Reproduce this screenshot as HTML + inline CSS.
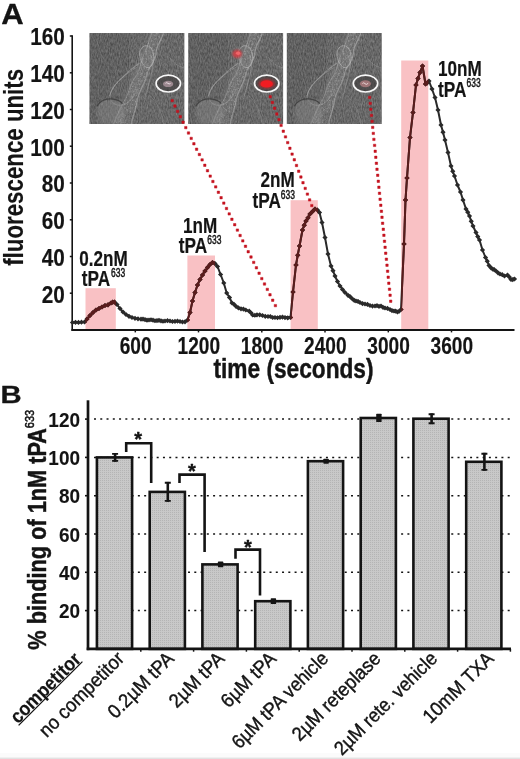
<!DOCTYPE html>
<html><head><meta charset="utf-8"><title>Figure</title>
<style>html,body{margin:0;padding:0;background:#fff;}body{width:520px;height:759px;overflow:hidden;}svg{display:block;font-family:'Liberation Sans', sans-serif;}</style>
</head><body>
<svg width="520" height="759" viewBox="0 0 520 759">
<defs>
<pattern id="dots" width="2" height="2" patternUnits="userSpaceOnUse"><rect width="2" height="2" fill="#c8c8c8"/><rect width="1" height="1" fill="#b4b4b4"/></pattern>
</defs>
<rect width="520" height="759" fill="#fff"/>
<rect x="0" y="753" width="520" height="5" fill="#fbfbfb"/><rect x="0" y="757.6" width="520" height="1.4" fill="#e2e2e2"/>
<g opacity="0.999">
<text transform="translate(1.3,23.6) scale(1.03,1)" font-size="30.2" font-weight="bold" text-anchor="start" fill="#141414" stroke="#141414" stroke-width="0.3" stroke-linejoin="round" >A</text>
<line x1="72.2" y1="35.2" x2="72.2" y2="330.8" stroke="#141414" stroke-width="1.6"/>
<line x1="71.4" y1="330.0" x2="514.5" y2="330.0" stroke="#141414" stroke-width="1.9"/>
<line x1="69.8" y1="293.2" x2="72.2" y2="293.2" stroke="#141414" stroke-width="1.5"/>
<text transform="translate(64.7,302.6) scale(0.875,1)" font-size="23.7" font-weight="bold" text-anchor="end" fill="#141414" stroke="#141414" stroke-width="0.2" stroke-linejoin="round" >20</text>
<line x1="69.8" y1="256.5" x2="72.2" y2="256.5" stroke="#141414" stroke-width="1.5"/>
<text transform="translate(64.7,265.8) scale(0.875,1)" font-size="23.7" font-weight="bold" text-anchor="end" fill="#141414" stroke="#141414" stroke-width="0.2" stroke-linejoin="round" >40</text>
<line x1="69.8" y1="219.8" x2="72.2" y2="219.8" stroke="#141414" stroke-width="1.5"/>
<text transform="translate(64.7,229.1) scale(0.875,1)" font-size="23.7" font-weight="bold" text-anchor="end" fill="#141414" stroke="#141414" stroke-width="0.2" stroke-linejoin="round" >60</text>
<line x1="69.8" y1="183.0" x2="72.2" y2="183.0" stroke="#141414" stroke-width="1.5"/>
<text transform="translate(64.7,192.3) scale(0.875,1)" font-size="23.7" font-weight="bold" text-anchor="end" fill="#141414" stroke="#141414" stroke-width="0.2" stroke-linejoin="round" >80</text>
<line x1="69.8" y1="146.2" x2="72.2" y2="146.2" stroke="#141414" stroke-width="1.5"/>
<text transform="translate(64.7,155.6) scale(0.875,1)" font-size="23.7" font-weight="bold" text-anchor="end" fill="#141414" stroke="#141414" stroke-width="0.2" stroke-linejoin="round" >100</text>
<line x1="69.8" y1="109.5" x2="72.2" y2="109.5" stroke="#141414" stroke-width="1.5"/>
<text transform="translate(64.7,118.8) scale(0.875,1)" font-size="23.7" font-weight="bold" text-anchor="end" fill="#141414" stroke="#141414" stroke-width="0.2" stroke-linejoin="round" >120</text>
<line x1="69.8" y1="72.8" x2="72.2" y2="72.8" stroke="#141414" stroke-width="1.5"/>
<text transform="translate(64.7,82.0) scale(0.875,1)" font-size="23.7" font-weight="bold" text-anchor="end" fill="#141414" stroke="#141414" stroke-width="0.2" stroke-linejoin="round" >140</text>
<line x1="69.8" y1="36.0" x2="72.2" y2="36.0" stroke="#141414" stroke-width="1.5"/>
<text transform="translate(64.7,45.3) scale(0.875,1)" font-size="23.7" font-weight="bold" text-anchor="end" fill="#141414" stroke="#141414" stroke-width="0.2" stroke-linejoin="round" >160</text>
<line x1="135.3" y1="330.0" x2="135.3" y2="332.4" stroke="#141414" stroke-width="1.5"/>
<text transform="translate(135.6,354.4) scale(0.77,1)" font-size="24.8" font-weight="bold" text-anchor="middle" fill="#141414" stroke="#141414" stroke-width="0.2" stroke-linejoin="round" >600</text>
<line x1="198.5" y1="330.0" x2="198.5" y2="332.4" stroke="#141414" stroke-width="1.5"/>
<text transform="translate(198.8,354.4) scale(0.77,1)" font-size="24.8" font-weight="bold" text-anchor="middle" fill="#141414" stroke="#141414" stroke-width="0.2" stroke-linejoin="round" >1200</text>
<line x1="261.8" y1="330.0" x2="261.8" y2="332.4" stroke="#141414" stroke-width="1.5"/>
<text transform="translate(262.1,354.4) scale(0.77,1)" font-size="24.8" font-weight="bold" text-anchor="middle" fill="#141414" stroke="#141414" stroke-width="0.2" stroke-linejoin="round" >1800</text>
<line x1="325.0" y1="330.0" x2="325.0" y2="332.4" stroke="#141414" stroke-width="1.5"/>
<text transform="translate(325.3,354.4) scale(0.77,1)" font-size="24.8" font-weight="bold" text-anchor="middle" fill="#141414" stroke="#141414" stroke-width="0.2" stroke-linejoin="round" >2400</text>
<line x1="388.3" y1="330.0" x2="388.3" y2="332.4" stroke="#141414" stroke-width="1.5"/>
<text transform="translate(388.6,354.4) scale(0.77,1)" font-size="24.8" font-weight="bold" text-anchor="middle" fill="#141414" stroke="#141414" stroke-width="0.2" stroke-linejoin="round" >3000</text>
<line x1="451.5" y1="330.0" x2="451.5" y2="332.4" stroke="#141414" stroke-width="1.5"/>
<text transform="translate(451.8,354.4) scale(0.77,1)" font-size="24.8" font-weight="bold" text-anchor="middle" fill="#141414" stroke="#141414" stroke-width="0.2" stroke-linejoin="round" >3600</text>
<text transform="translate(213.5,377.8) scale(0.81,1)" font-size="28" font-weight="bold" text-anchor="start" fill="#141414" stroke="#141414" stroke-width="0.45" stroke-linejoin="round" >time (seconds)</text>
<text transform="translate(22.7,265.8) rotate(-90) scale(0.832,1)" font-size="26.8" font-weight="bold" text-anchor="start" fill="#141414" stroke="#141414" stroke-width="0.15" stroke-linejoin="round" >fluorescence units</text>
<rect x="85.5" y="288.2" width="30.3" height="40.8" fill="#f9c1c4"/>
<rect x="187.4" y="255.5" width="27.6" height="73.5" fill="#f9c1c4"/>
<rect x="290.6" y="200.2" width="27.2" height="128.8" fill="#f9c1c4"/>
<rect x="401.2" y="60.5" width="27.1" height="268.5" fill="#f9c1c4"/>
<defs>
<filter id="nz" x="0" y="0" width="100%" height="100%" color-interpolation-filters="sRGB"><feTurbulence type="fractalNoise" baseFrequency="0.9 0.3" numOctaves="2" seed="7" result="n"/><feColorMatrix in="n" type="matrix" values="0.32 0 0 0 0.25  0.32 0 0 0 0.25  0.32 0 0 0 0.25  0 0 0 0 1"/></filter>
<filter id="sp" x="0" y="0" width="100%" height="100%" color-interpolation-filters="sRGB"><feTurbulence type="fractalNoise" baseFrequency="0.55" numOctaves="2" seed="11" result="n"/><feColorMatrix in="n" type="matrix" values="0 0 0 0 0.78  0 0 0 0 0.78  0 0 0 0 0.78  3.0 0 0 0 -1.55"/></filter>
<filter id="b1" x="-20%" y="-20%" width="140%" height="140%"><feGaussianBlur stdDeviation="1.1"/></filter>
<filter id="b2" x="-20%" y="-20%" width="140%" height="140%"><feGaussianBlur stdDeviation="2.4"/></filter>
<filter id="b05" x="-20%" y="-20%" width="140%" height="140%"><feGaussianBlur stdDeviation="0.6"/></filter>
<clipPath id="ic"><rect width="94.8" height="90.8"/></clipPath>
<clipPath id="band"><path d="M62,0 L75,0 C73,8 66,14 66,22 C66,30 58,34 57,42 C55,52 48,60 47,70 C46,80 42,84 42,91 L24,91 C28,82 30,74 36,66 C40,58 40,50 46,44 C52,36 50,28 55,20 C58,12 60,8 62,0Z"/></clipPath>
<g id="cell" clip-path="url(#ic)">
<rect width="95" height="91" fill="#666"/>
<rect width="95" height="91" filter="url(#nz)" opacity="0.9"/>
<rect width="40" height="91" fill="#000" opacity="0.06"/>
<path d="M68,-2 C62,20 54,34 50,46 C44,62 36,76 31,93" fill="none" stroke="#b0b0b0" stroke-width="14" opacity="0.17" filter="url(#b2)"/>
<g clip-path="url(#band)" filter="url(#b05)"><rect width="95" height="91" filter="url(#sp)" opacity="0.42"/></g>
<path d="M74,0 C72,7 67,12 66.5,20 C66,29 59,33 57.5,41 C56,51 49,58 47.5,68 C46.5,78 42.5,83 42,91" fill="none" stroke="#cfcfcf" stroke-width="1.2" opacity="0.38" filter="url(#b05)"/>
<path d="M62,0 C60,8 58,13 55,20 C50.5,28 52,35 46.5,43 C40.5,50 40,58 36,66 C30.5,74 28,82 24,91" fill="none" stroke="#c8c8c8" stroke-width="1.1" opacity="0.32" filter="url(#b05)"/>
<path d="M52,15 C49,19 50,27 54,32 C58,37 63,34 64,28 C65,21 63,15 59,13 C56,12 54,13 52,15Z" fill="#8e8e8e" fill-opacity="0.3" stroke="#c6c6c6" stroke-width="1" opacity="0.55" filter="url(#b05)"/>
<path d="M55,19 C54,23 56,28 59,29" fill="none" stroke="#5a5a5a" stroke-width="0.9" opacity="0.45" filter="url(#b05)"/>
<path d="M48,34 C40,38 30,46 24,54 C18,62 20,70 28,72 C36,74 44,66 48,56" fill="#858585" fill-opacity="0.18" stroke="#a8a8a8" stroke-width="1" opacity="0.45" filter="url(#b05)"/>
<path d="M50,30 C44,34 39,38 33,44 C26,50 22,56 20,63" fill="none" stroke="#b2b2b2" stroke-width="1.1" opacity="0.5" filter="url(#b05)"/>
<path d="M12,43 C11,45 12,47 14,47" fill="none" stroke="#505050" stroke-width="1.2" opacity="0.55" filter="url(#b05)"/>
<path d="M61,22 C66,30 62,40 60,48 C58,56 57,60 55,66" fill="none" stroke="#b4b4b4" stroke-width="1" opacity="0.4" filter="url(#b05)"/>
<path d="M80,24 C84,30 88,33 95,35" fill="none" stroke="#a2a2a2" stroke-width="1" opacity="0.4" filter="url(#b05)"/>
<path d="M60,62 C66,68 72,76 74,91" fill="none" stroke="#a0a0a0" stroke-width="1" opacity="0.35" filter="url(#b05)"/>
<path d="M7,75 C9,68 17,65 25,66.5 C31,67.5 34,71 35,77 C36,84 34,91 34,91 L10,91 C7,86 6,80 7,75Z" fill="#959595" opacity="0.36" filter="url(#b1)"/>
<path d="M7.5,73.5 C10,67.5 17,65 24,66 C28.5,66.8 31,68 33,70.5" fill="none" stroke="#3a3a3a" stroke-width="1.3" opacity="0.8" filter="url(#b05)"/>
<path d="M7.5,73.5 C7.5,80 10,86 13,91" fill="none" stroke="#5a5a5a" stroke-width="1" opacity="0.5" filter="url(#b05)"/>
<ellipse cx="78.9" cy="50.6" rx="11.6" ry="7.8" fill="#3f3c3c" opacity="0.62" filter="url(#b05)"/>
</g>
</defs>
<g transform="translate(89.5,33.1)">
<use href="#cell"/>
<ellipse cx="78.6" cy="50.8" rx="5.2" ry="3.2" fill="#a8929a" opacity="0.85" filter="url(#b05)"/>
<path d="M76,50.2 q1.2,-1.2 2.4,0 q1.2,1.2 2.6,0.2" fill="none" stroke="#f2e6ea" stroke-width="1" opacity="0.9"/>
</g>
<g transform="translate(188.3,33.1)">
<use href="#cell"/>
<ellipse cx="48.9" cy="20.7" rx="4.8" ry="4" fill="#dc3c44" opacity="0.85" filter="url(#b1)"/>
<ellipse cx="49.8" cy="20.2" rx="2.2" ry="1.7" fill="#f46a6e" opacity="0.9" filter="url(#b05)"/>
<ellipse cx="78.4" cy="50.8" rx="8.4" ry="4.9" fill="#a82a2e" opacity="0.9" filter="url(#b1)"/>
<ellipse cx="78.4" cy="50.8" rx="6.2" ry="3.7" fill="#f01c22" filter="url(#b05)"/>
</g>
<g transform="translate(286.8,33.1)">
<use href="#cell"/>
<ellipse cx="78.6" cy="50.7" rx="5.6" ry="3.5" fill="#a87a7c" opacity="0.9" filter="url(#b05)"/>
<path d="M75.6,50.4 q1.5,-1.6 2.6,0.2 q1.2,1.6 3.2,-0.4" fill="none" stroke="#f0dede" stroke-width="1" opacity="0.9"/>
</g>
<ellipse cx="168.3" cy="83.6" rx="12.2" ry="8.4" fill="none" stroke="#f7f7f7" stroke-width="1.7"/>
<ellipse cx="266.7" cy="83.6" rx="12.2" ry="8.4" fill="none" stroke="#f7f7f7" stroke-width="1.7"/>
<ellipse cx="365.5" cy="83.6" rx="12.2" ry="8.4" fill="none" stroke="#f7f7f7" stroke-width="1.7"/>
<path d="M171.0,99.4h2.4v2.4h-2.4zM173.7,104.8h2.4v2.4h-2.4zM176.4,110.2h2.4v2.4h-2.4zM179.1,115.6h2.4v2.4h-2.4zM181.9,121.0h2.4v2.4h-2.4zM184.6,126.4h2.4v2.4h-2.4zM187.3,131.8h2.4v2.4h-2.4zM190.0,137.2h2.4v2.4h-2.4zM192.7,142.6h2.4v2.4h-2.4zM195.4,148.0h2.4v2.4h-2.4zM198.2,153.3h2.4v2.4h-2.4zM200.9,158.7h2.4v2.4h-2.4zM203.6,164.1h2.4v2.4h-2.4zM206.3,169.5h2.4v2.4h-2.4zM209.0,174.9h2.4v2.4h-2.4zM211.7,180.3h2.4v2.4h-2.4zM214.5,185.7h2.4v2.4h-2.4zM217.2,191.1h2.4v2.4h-2.4zM219.9,196.5h2.4v2.4h-2.4zM222.6,201.9h2.4v2.4h-2.4zM225.3,207.3h2.4v2.4h-2.4zM228.0,212.7h2.4v2.4h-2.4zM230.7,218.1h2.4v2.4h-2.4zM233.5,223.5h2.4v2.4h-2.4zM236.2,228.9h2.4v2.4h-2.4zM238.9,234.3h2.4v2.4h-2.4zM241.6,239.7h2.4v2.4h-2.4zM244.3,245.1h2.4v2.4h-2.4zM247.0,250.5h2.4v2.4h-2.4zM249.8,255.8h2.4v2.4h-2.4zM252.5,261.2h2.4v2.4h-2.4zM255.2,266.6h2.4v2.4h-2.4zM257.9,272.0h2.4v2.4h-2.4zM260.6,277.4h2.4v2.4h-2.4zM263.3,282.8h2.4v2.4h-2.4zM266.1,288.2h2.4v2.4h-2.4zM268.8,293.6h2.4v2.4h-2.4zM271.5,299.0h2.4v2.4h-2.4zM274.2,304.4h2.4v2.4h-2.4z" fill="#c4121f" stroke="#c4121f" stroke-width="0.5" stroke-linejoin="round"/>
<path d="M269.0,95.6h2.4v2.4h-2.4zM271.2,101.3h2.4v2.4h-2.4zM273.4,107.1h2.4v2.4h-2.4zM275.6,112.8h2.4v2.4h-2.4zM277.8,118.5h2.4v2.4h-2.4zM279.9,124.2h2.4v2.4h-2.4zM282.1,130.0h2.4v2.4h-2.4zM284.3,135.7h2.4v2.4h-2.4zM286.5,141.4h2.4v2.4h-2.4zM288.7,147.1h2.4v2.4h-2.4zM290.9,152.9h2.4v2.4h-2.4zM293.1,158.6h2.4v2.4h-2.4zM295.3,164.3h2.4v2.4h-2.4zM297.5,170.0h2.4v2.4h-2.4zM299.7,175.8h2.4v2.4h-2.4zM301.8,181.5h2.4v2.4h-2.4zM304.0,187.2h2.4v2.4h-2.4zM306.2,192.9h2.4v2.4h-2.4zM308.4,198.7h2.4v2.4h-2.4zM310.6,204.4h2.4v2.4h-2.4z" fill="#c4121f" stroke="#c4121f" stroke-width="0.5" stroke-linejoin="round"/>
<path d="M368.4,96.2h2.4v2.4h-2.4zM369.0,102.2h2.4v2.4h-2.4zM369.6,108.2h2.4v2.4h-2.4zM370.3,114.2h2.4v2.4h-2.4zM370.9,120.2h2.4v2.4h-2.4zM371.5,126.2h2.4v2.4h-2.4zM372.1,132.2h2.4v2.4h-2.4zM372.7,138.2h2.4v2.4h-2.4zM373.4,144.2h2.4v2.4h-2.4zM374.0,150.1h2.4v2.4h-2.4zM374.6,156.1h2.4v2.4h-2.4zM375.2,162.1h2.4v2.4h-2.4zM375.8,168.1h2.4v2.4h-2.4zM376.5,174.1h2.4v2.4h-2.4zM377.1,180.1h2.4v2.4h-2.4zM377.7,186.1h2.4v2.4h-2.4zM378.3,192.1h2.4v2.4h-2.4zM378.9,198.1h2.4v2.4h-2.4zM379.6,204.1h2.4v2.4h-2.4zM380.2,210.1h2.4v2.4h-2.4zM380.8,216.1h2.4v2.4h-2.4zM381.4,222.1h2.4v2.4h-2.4zM382.1,228.1h2.4v2.4h-2.4zM382.7,234.1h2.4v2.4h-2.4zM383.3,240.1h2.4v2.4h-2.4zM383.9,246.1h2.4v2.4h-2.4zM384.5,252.0h2.4v2.4h-2.4zM385.2,258.0h2.4v2.4h-2.4zM385.8,264.0h2.4v2.4h-2.4zM386.4,270.0h2.4v2.4h-2.4zM387.0,276.0h2.4v2.4h-2.4zM387.6,282.0h2.4v2.4h-2.4zM388.3,288.0h2.4v2.4h-2.4zM388.9,294.0h2.4v2.4h-2.4zM389.5,300.0h2.4v2.4h-2.4z" fill="#c4121f" stroke="#c4121f" stroke-width="0.5" stroke-linejoin="round"/>
<defs>
<clipPath id="cp"><rect x="85.5" y="288.2" width="30.3" height="41.8"/><rect x="187.4" y="255.5" width="27.6" height="74.5"/><rect x="290.6" y="200.2" width="27.2" height="129.8"/><rect x="401.2" y="60.5" width="27.1" height="269.5"/></clipPath>
</defs>
<g><polyline points="72.5,322.5 75.5,322.3 78.5,322.4 81.5,322.2 84.5,322 87,319 90,315.5 93,312.5 96,310 99,308.5 102,307 105,305.5 108,304.8 111,303 112.75,302.15 114.5,302 117,304.5 120,308.5 123,312 126,314.5 129,316.3 132,317.5 135,318.3 138,318.8 141,319.2 143.0,319.05 145,319.6 147.0,320.15 149,320 151.0,319.75 153,320.2 155.0,320.75 157,320.6 159.0,320.35 161,320.8 163.0,321.25 165,321 167.5,320.65 170,321 172.5,321.5 175,321.3 177.5,321.05 180,321.5 182.5,322.0 185,321.8 187.5,320 190,312.5 192.5,301 195,292.5 197.5,285 200,279.5 202.5,275 205,271 207.5,267.5 210,264.5 212.5,262.5 215,263.5 217.5,266.5 220.6,274.5 223.8,283 226.7,293 229.5,297.5 232,303 234.0,304.3 236,306.3 238.5,307.9 241,308.8 243.4,309.05 245.8,310 249.2,311.2 250.95,312.75 252.7,315 254.85,315.25 257,314.8 259.75,314.8 262.5,315.5 265.25,316.35 268,316.5 270.33,316.48 272.67,317.52 275,317.5 277.5,317.75 280,317.3 282.5,317.1 285,317.6 287.75,317.9 290.5,317.5 293,292 296,265 297.75,255.15 299.5,246 302.5,230 304.25,225.15 306,221 308.0,217.85 310,214 312.5,211.5 315,209 317.5,210 319.5,212.5 322,222.5 325,237.5 328,254 331,266 333.0,270.65 335,276 337.5,281.5 340,286 342.5,289.5 345,292.5 348,295.3 350.25,296.8 352.5,299 354.25,300.35 356,301 358.0,301.4 360,302.5 362.5,303.6 365,304 367.5,304.4 370,305.5 372.5,306.1 375,306 377.0,305.65 379.0,306.35 381,306 383.0,307.35 385,308 387.5,308.4 390,309.5 392.0,310.6 394,311 395.75,311.15 397.5,312 399.25,311.1 401,309.5 404,244 405.5,200 407,178 410,137.5 413,112.5 416,85 418.0,78.4 420,72.5 422.5,66 425.5,84 427.25,82.85 429,81 432,89 435,97.5 438,110 441,125 443.0,132.15 445,140 448,152.5 451,166 452.75,171.35 454.5,176 457.5,185 460.5,192 463,200 466,209 467.75,212.15 469.5,216 471.25,221.35 473,226 476,232.5 477.75,236.6 479.5,240 482.5,250 485.5,257.5 487.25,261.15 489,265.5 490.75,267.6 492.5,269 494.25,269.65 496,271 498.0,272.85 500,274 502.25,274.65 504.5,276 507.5,275 509.25,276.9 511,279.5 512.75,279.6 514.5,279" fill="none" stroke="#2a2a2a" stroke-width="2.0" stroke-linejoin="round"/><path d="M69.9,322.5L72.5,319.9L75.1,322.5L72.5,325.1ZM72.9,322.3L75.5,319.7L78.1,322.3L75.5,324.90000000000003ZM75.9,322.4L78.5,319.79999999999995L81.1,322.4L78.5,325.0ZM78.9,322.2L81.5,319.59999999999997L84.1,322.2L81.5,324.8ZM81.9,322L84.5,319.4L87.1,322L84.5,324.6ZM84.4,319L87,316.4L89.6,319L87,321.6ZM87.4,315.5L90,312.9L92.6,315.5L90,318.1ZM90.4,312.5L93,309.9L95.6,312.5L93,315.1ZM93.4,310L96,307.4L98.6,310L96,312.6ZM96.4,308.5L99,305.9L101.6,308.5L99,311.1ZM99.4,307L102,304.4L104.6,307L102,309.6ZM102.4,305.5L105,302.9L107.6,305.5L105,308.1ZM105.4,304.8L108,302.2L110.6,304.8L108,307.40000000000003ZM108.4,303L111,300.4L113.6,303L111,305.6ZM110.15,302.15L112.75,299.54999999999995L115.35,302.15L112.75,304.75ZM111.9,302L114.5,299.4L117.1,302L114.5,304.6ZM114.4,304.5L117,301.9L119.6,304.5L117,307.1ZM117.4,308.5L120,305.9L122.6,308.5L120,311.1ZM120.4,312L123,309.4L125.6,312L123,314.6ZM123.4,314.5L126,311.9L128.6,314.5L126,317.1ZM126.4,316.3L129,313.7L131.6,316.3L129,318.90000000000003ZM129.4,317.5L132,314.9L134.6,317.5L132,320.1ZM132.4,318.3L135,315.7L137.6,318.3L135,320.90000000000003ZM135.4,318.8L138,316.2L140.6,318.8L138,321.40000000000003ZM138.4,319.2L141,316.59999999999997L143.6,319.2L141,321.8ZM140.4,319.05L143.0,316.45L145.6,319.05L143.0,321.65000000000003ZM142.4,319.6L145,317.0L147.6,319.6L145,322.20000000000005ZM144.4,320.15L147.0,317.54999999999995L149.6,320.15L147.0,322.75ZM146.4,320L149,317.4L151.6,320L149,322.6ZM148.4,319.75L151.0,317.15L153.6,319.75L151.0,322.35ZM150.4,320.2L153,317.59999999999997L155.6,320.2L153,322.8ZM152.4,320.75L155.0,318.15L157.6,320.75L155.0,323.35ZM154.4,320.6L157,318.0L159.6,320.6L157,323.20000000000005ZM156.4,320.35L159.0,317.75L161.6,320.35L159.0,322.95000000000005ZM158.4,320.8L161,318.2L163.6,320.8L161,323.40000000000003ZM160.4,321.25L163.0,318.65L165.6,321.25L163.0,323.85ZM162.4,321L165,318.4L167.6,321L165,323.6ZM164.9,320.65L167.5,318.04999999999995L170.1,320.65L167.5,323.25ZM167.4,321L170,318.4L172.6,321L170,323.6ZM169.9,321.5L172.5,318.9L175.1,321.5L172.5,324.1ZM172.4,321.3L175,318.7L177.6,321.3L175,323.90000000000003ZM174.9,321.05L177.5,318.45L180.1,321.05L177.5,323.65000000000003ZM177.4,321.5L180,318.9L182.6,321.5L180,324.1ZM179.9,322.0L182.5,319.4L185.1,322.0L182.5,324.6ZM182.4,321.8L185,319.2L187.6,321.8L185,324.40000000000003ZM184.9,320L187.5,317.4L190.1,320L187.5,322.6ZM187.4,312.5L190,309.9L192.6,312.5L190,315.1ZM189.9,301L192.5,298.4L195.1,301L192.5,303.6ZM192.4,292.5L195,289.9L197.6,292.5L195,295.1ZM194.9,285L197.5,282.4L200.1,285L197.5,287.6ZM197.4,279.5L200,276.9L202.6,279.5L200,282.1ZM199.9,275L202.5,272.4L205.1,275L202.5,277.6ZM202.4,271L205,268.4L207.6,271L205,273.6ZM204.9,267.5L207.5,264.9L210.1,267.5L207.5,270.1ZM207.4,264.5L210,261.9L212.6,264.5L210,267.1ZM209.9,262.5L212.5,259.9L215.1,262.5L212.5,265.1ZM212.4,263.5L215,260.9L217.6,263.5L215,266.1ZM214.9,266.5L217.5,263.9L220.1,266.5L217.5,269.1ZM218.0,274.5L220.6,271.9L223.2,274.5L220.6,277.1ZM221.20000000000002,283L223.8,280.4L226.4,283L223.8,285.6ZM224.1,293L226.7,290.4L229.29999999999998,293L226.7,295.6ZM226.9,297.5L229.5,294.9L232.1,297.5L229.5,300.1ZM229.4,303L232,300.4L234.6,303L232,305.6ZM231.4,304.3L234.0,301.7L236.6,304.3L234.0,306.90000000000003ZM233.4,306.3L236,303.7L238.6,306.3L236,308.90000000000003ZM235.9,307.9L238.5,305.29999999999995L241.1,307.9L238.5,310.5ZM238.4,308.8L241,306.2L243.6,308.8L241,311.40000000000003ZM240.8,309.05L243.4,306.45L246.0,309.05L243.4,311.65000000000003ZM243.20000000000002,310L245.8,307.4L248.4,310L245.8,312.6ZM246.6,311.2L249.2,308.59999999999997L251.79999999999998,311.2L249.2,313.8ZM248.35,312.75L250.95,310.15L253.54999999999998,312.75L250.95,315.35ZM250.1,315L252.7,312.4L255.29999999999998,315L252.7,317.6ZM252.25,315.25L254.85,312.65L257.45,315.25L254.85,317.85ZM254.4,314.8L257,312.2L259.6,314.8L257,317.40000000000003ZM257.15,314.8L259.75,312.2L262.35,314.8L259.75,317.40000000000003ZM259.9,315.5L262.5,312.9L265.1,315.5L262.5,318.1ZM262.65,316.35L265.25,313.75L267.85,316.35L265.25,318.95000000000005ZM265.4,316.5L268,313.9L270.6,316.5L268,319.1ZM267.72999999999996,316.48L270.33,313.88L272.93,316.48L270.33,319.08000000000004ZM270.07,317.52L272.67,314.91999999999996L275.27000000000004,317.52L272.67,320.12ZM272.4,317.5L275,314.9L277.6,317.5L275,320.1ZM274.9,317.75L277.5,315.15L280.1,317.75L277.5,320.35ZM277.4,317.3L280,314.7L282.6,317.3L280,319.90000000000003ZM279.9,317.1L282.5,314.5L285.1,317.1L282.5,319.70000000000005ZM282.4,317.6L285,315.0L287.6,317.6L285,320.20000000000005ZM285.15,317.9L287.75,315.29999999999995L290.35,317.9L287.75,320.5ZM287.9,317.5L290.5,314.9L293.1,317.5L290.5,320.1ZM290.4,292L293,289.4L295.6,292L293,294.6ZM293.4,265L296,262.4L298.6,265L296,267.6ZM295.15,255.15L297.75,252.55L300.35,255.15L297.75,257.75ZM296.9,246L299.5,243.4L302.1,246L299.5,248.6ZM299.9,230L302.5,227.4L305.1,230L302.5,232.6ZM301.65,225.15L304.25,222.55L306.85,225.15L304.25,227.75ZM303.4,221L306,218.4L308.6,221L306,223.6ZM305.4,217.85L308.0,215.25L310.6,217.85L308.0,220.45ZM307.4,214L310,211.4L312.6,214L310,216.6ZM309.9,211.5L312.5,208.9L315.1,211.5L312.5,214.1ZM312.4,209L315,206.4L317.6,209L315,211.6ZM314.9,210L317.5,207.4L320.1,210L317.5,212.6ZM316.9,212.5L319.5,209.9L322.1,212.5L319.5,215.1ZM319.4,222.5L322,219.9L324.6,222.5L322,225.1ZM322.4,237.5L325,234.9L327.6,237.5L325,240.1ZM325.4,254L328,251.4L330.6,254L328,256.6ZM328.4,266L331,263.4L333.6,266L331,268.6ZM330.4,270.65L333.0,268.04999999999995L335.6,270.65L333.0,273.25ZM332.4,276L335,273.4L337.6,276L335,278.6ZM334.9,281.5L337.5,278.9L340.1,281.5L337.5,284.1ZM337.4,286L340,283.4L342.6,286L340,288.6ZM339.9,289.5L342.5,286.9L345.1,289.5L342.5,292.1ZM342.4,292.5L345,289.9L347.6,292.5L345,295.1ZM345.4,295.3L348,292.7L350.6,295.3L348,297.90000000000003ZM347.65,296.8L350.25,294.2L352.85,296.8L350.25,299.40000000000003ZM349.9,299L352.5,296.4L355.1,299L352.5,301.6ZM351.65,300.35L354.25,297.75L356.85,300.35L354.25,302.95000000000005ZM353.4,301L356,298.4L358.6,301L356,303.6ZM355.4,301.4L358.0,298.79999999999995L360.6,301.4L358.0,304.0ZM357.4,302.5L360,299.9L362.6,302.5L360,305.1ZM359.9,303.6L362.5,301.0L365.1,303.6L362.5,306.20000000000005ZM362.4,304L365,301.4L367.6,304L365,306.6ZM364.9,304.4L367.5,301.79999999999995L370.1,304.4L367.5,307.0ZM367.4,305.5L370,302.9L372.6,305.5L370,308.1ZM369.9,306.1L372.5,303.5L375.1,306.1L372.5,308.70000000000005ZM372.4,306L375,303.4L377.6,306L375,308.6ZM374.4,305.65L377.0,303.04999999999995L379.6,305.65L377.0,308.25ZM376.4,306.35L379.0,303.75L381.6,306.35L379.0,308.95000000000005ZM378.4,306L381,303.4L383.6,306L381,308.6ZM380.4,307.35L383.0,304.75L385.6,307.35L383.0,309.95000000000005ZM382.4,308L385,305.4L387.6,308L385,310.6ZM384.9,308.4L387.5,305.79999999999995L390.1,308.4L387.5,311.0ZM387.4,309.5L390,306.9L392.6,309.5L390,312.1ZM389.4,310.6L392.0,308.0L394.6,310.6L392.0,313.20000000000005ZM391.4,311L394,308.4L396.6,311L394,313.6ZM393.15,311.15L395.75,308.54999999999995L398.35,311.15L395.75,313.75ZM394.9,312L397.5,309.4L400.1,312L397.5,314.6ZM396.65,311.1L399.25,308.5L401.85,311.1L399.25,313.70000000000005ZM398.4,309.5L401,306.9L403.6,309.5L401,312.1ZM401.4,244L404,241.4L406.6,244L404,246.6ZM402.9,200L405.5,197.4L408.1,200L405.5,202.6ZM404.4,178L407,175.4L409.6,178L407,180.6ZM407.4,137.5L410,134.9L412.6,137.5L410,140.1ZM410.4,112.5L413,109.9L415.6,112.5L413,115.1ZM413.4,85L416,82.4L418.6,85L416,87.6ZM415.4,78.4L418.0,75.80000000000001L420.6,78.4L418.0,81.0ZM417.4,72.5L420,69.9L422.6,72.5L420,75.1ZM419.9,66L422.5,63.4L425.1,66L422.5,68.6ZM422.9,84L425.5,81.4L428.1,84L425.5,86.6ZM424.65,82.85L427.25,80.25L429.85,82.85L427.25,85.44999999999999ZM426.4,81L429,78.4L431.6,81L429,83.6ZM429.4,89L432,86.4L434.6,89L432,91.6ZM432.4,97.5L435,94.9L437.6,97.5L435,100.1ZM435.4,110L438,107.4L440.6,110L438,112.6ZM438.4,125L441,122.4L443.6,125L441,127.6ZM440.4,132.15L443.0,129.55L445.6,132.15L443.0,134.75ZM442.4,140L445,137.4L447.6,140L445,142.6ZM445.4,152.5L448,149.9L450.6,152.5L448,155.1ZM448.4,166L451,163.4L453.6,166L451,168.6ZM450.15,171.35L452.75,168.75L455.35,171.35L452.75,173.95ZM451.9,176L454.5,173.4L457.1,176L454.5,178.6ZM454.9,185L457.5,182.4L460.1,185L457.5,187.6ZM457.9,192L460.5,189.4L463.1,192L460.5,194.6ZM460.4,200L463,197.4L465.6,200L463,202.6ZM463.4,209L466,206.4L468.6,209L466,211.6ZM465.15,212.15L467.75,209.55L470.35,212.15L467.75,214.75ZM466.9,216L469.5,213.4L472.1,216L469.5,218.6ZM468.65,221.35L471.25,218.75L473.85,221.35L471.25,223.95ZM470.4,226L473,223.4L475.6,226L473,228.6ZM473.4,232.5L476,229.9L478.6,232.5L476,235.1ZM475.15,236.6L477.75,234.0L480.35,236.6L477.75,239.2ZM476.9,240L479.5,237.4L482.1,240L479.5,242.6ZM479.9,250L482.5,247.4L485.1,250L482.5,252.6ZM482.9,257.5L485.5,254.9L488.1,257.5L485.5,260.1ZM484.65,261.15L487.25,258.54999999999995L489.85,261.15L487.25,263.75ZM486.4,265.5L489,262.9L491.6,265.5L489,268.1ZM488.15,267.6L490.75,265.0L493.35,267.6L490.75,270.20000000000005ZM489.9,269L492.5,266.4L495.1,269L492.5,271.6ZM491.65,269.65L494.25,267.04999999999995L496.85,269.65L494.25,272.25ZM493.4,271L496,268.4L498.6,271L496,273.6ZM495.4,272.85L498.0,270.25L500.6,272.85L498.0,275.45000000000005ZM497.4,274L500,271.4L502.6,274L500,276.6ZM499.65,274.65L502.25,272.04999999999995L504.85,274.65L502.25,277.25ZM501.9,276L504.5,273.4L507.1,276L504.5,278.6ZM504.9,275L507.5,272.4L510.1,275L507.5,277.6ZM506.65,276.9L509.25,274.29999999999995L511.85,276.9L509.25,279.5ZM508.4,279.5L511,276.9L513.6,279.5L511,282.1ZM510.15,279.6L512.75,277.0L515.35,279.6L512.75,282.20000000000005ZM511.9,279L514.5,276.4L517.1,279L514.5,281.6Z" fill="#2a2a2a"/></g>
<g clip-path="url(#cp)"><polyline points="72.5,322.5 75.5,322.3 78.5,322.4 81.5,322.2 84.5,322 87,319 90,315.5 93,312.5 96,310 99,308.5 102,307 105,305.5 108,304.8 111,303 112.75,302.15 114.5,302 117,304.5 120,308.5 123,312 126,314.5 129,316.3 132,317.5 135,318.3 138,318.8 141,319.2 143.0,319.05 145,319.6 147.0,320.15 149,320 151.0,319.75 153,320.2 155.0,320.75 157,320.6 159.0,320.35 161,320.8 163.0,321.25 165,321 167.5,320.65 170,321 172.5,321.5 175,321.3 177.5,321.05 180,321.5 182.5,322.0 185,321.8 187.5,320 190,312.5 192.5,301 195,292.5 197.5,285 200,279.5 202.5,275 205,271 207.5,267.5 210,264.5 212.5,262.5 215,263.5 217.5,266.5 220.6,274.5 223.8,283 226.7,293 229.5,297.5 232,303 234.0,304.3 236,306.3 238.5,307.9 241,308.8 243.4,309.05 245.8,310 249.2,311.2 250.95,312.75 252.7,315 254.85,315.25 257,314.8 259.75,314.8 262.5,315.5 265.25,316.35 268,316.5 270.33,316.48 272.67,317.52 275,317.5 277.5,317.75 280,317.3 282.5,317.1 285,317.6 287.75,317.9 290.5,317.5 293,292 296,265 297.75,255.15 299.5,246 302.5,230 304.25,225.15 306,221 308.0,217.85 310,214 312.5,211.5 315,209 317.5,210 319.5,212.5 322,222.5 325,237.5 328,254 331,266 333.0,270.65 335,276 337.5,281.5 340,286 342.5,289.5 345,292.5 348,295.3 350.25,296.8 352.5,299 354.25,300.35 356,301 358.0,301.4 360,302.5 362.5,303.6 365,304 367.5,304.4 370,305.5 372.5,306.1 375,306 377.0,305.65 379.0,306.35 381,306 383.0,307.35 385,308 387.5,308.4 390,309.5 392.0,310.6 394,311 395.75,311.15 397.5,312 399.25,311.1 401,309.5 404,244 405.5,200 407,178 410,137.5 413,112.5 416,85 418.0,78.4 420,72.5 422.5,66 425.5,84 427.25,82.85 429,81 432,89 435,97.5 438,110 441,125 443.0,132.15 445,140 448,152.5 451,166 452.75,171.35 454.5,176 457.5,185 460.5,192 463,200 466,209 467.75,212.15 469.5,216 471.25,221.35 473,226 476,232.5 477.75,236.6 479.5,240 482.5,250 485.5,257.5 487.25,261.15 489,265.5 490.75,267.6 492.5,269 494.25,269.65 496,271 498.0,272.85 500,274 502.25,274.65 504.5,276 507.5,275 509.25,276.9 511,279.5 512.75,279.6 514.5,279" fill="none" stroke="#5a1c1c" stroke-width="2.0" stroke-linejoin="round"/><path d="M69.9,322.5L72.5,319.9L75.1,322.5L72.5,325.1ZM72.9,322.3L75.5,319.7L78.1,322.3L75.5,324.90000000000003ZM75.9,322.4L78.5,319.79999999999995L81.1,322.4L78.5,325.0ZM78.9,322.2L81.5,319.59999999999997L84.1,322.2L81.5,324.8ZM81.9,322L84.5,319.4L87.1,322L84.5,324.6ZM84.4,319L87,316.4L89.6,319L87,321.6ZM87.4,315.5L90,312.9L92.6,315.5L90,318.1ZM90.4,312.5L93,309.9L95.6,312.5L93,315.1ZM93.4,310L96,307.4L98.6,310L96,312.6ZM96.4,308.5L99,305.9L101.6,308.5L99,311.1ZM99.4,307L102,304.4L104.6,307L102,309.6ZM102.4,305.5L105,302.9L107.6,305.5L105,308.1ZM105.4,304.8L108,302.2L110.6,304.8L108,307.40000000000003ZM108.4,303L111,300.4L113.6,303L111,305.6ZM110.15,302.15L112.75,299.54999999999995L115.35,302.15L112.75,304.75ZM111.9,302L114.5,299.4L117.1,302L114.5,304.6ZM114.4,304.5L117,301.9L119.6,304.5L117,307.1ZM117.4,308.5L120,305.9L122.6,308.5L120,311.1ZM120.4,312L123,309.4L125.6,312L123,314.6ZM123.4,314.5L126,311.9L128.6,314.5L126,317.1ZM126.4,316.3L129,313.7L131.6,316.3L129,318.90000000000003ZM129.4,317.5L132,314.9L134.6,317.5L132,320.1ZM132.4,318.3L135,315.7L137.6,318.3L135,320.90000000000003ZM135.4,318.8L138,316.2L140.6,318.8L138,321.40000000000003ZM138.4,319.2L141,316.59999999999997L143.6,319.2L141,321.8ZM140.4,319.05L143.0,316.45L145.6,319.05L143.0,321.65000000000003ZM142.4,319.6L145,317.0L147.6,319.6L145,322.20000000000005ZM144.4,320.15L147.0,317.54999999999995L149.6,320.15L147.0,322.75ZM146.4,320L149,317.4L151.6,320L149,322.6ZM148.4,319.75L151.0,317.15L153.6,319.75L151.0,322.35ZM150.4,320.2L153,317.59999999999997L155.6,320.2L153,322.8ZM152.4,320.75L155.0,318.15L157.6,320.75L155.0,323.35ZM154.4,320.6L157,318.0L159.6,320.6L157,323.20000000000005ZM156.4,320.35L159.0,317.75L161.6,320.35L159.0,322.95000000000005ZM158.4,320.8L161,318.2L163.6,320.8L161,323.40000000000003ZM160.4,321.25L163.0,318.65L165.6,321.25L163.0,323.85ZM162.4,321L165,318.4L167.6,321L165,323.6ZM164.9,320.65L167.5,318.04999999999995L170.1,320.65L167.5,323.25ZM167.4,321L170,318.4L172.6,321L170,323.6ZM169.9,321.5L172.5,318.9L175.1,321.5L172.5,324.1ZM172.4,321.3L175,318.7L177.6,321.3L175,323.90000000000003ZM174.9,321.05L177.5,318.45L180.1,321.05L177.5,323.65000000000003ZM177.4,321.5L180,318.9L182.6,321.5L180,324.1ZM179.9,322.0L182.5,319.4L185.1,322.0L182.5,324.6ZM182.4,321.8L185,319.2L187.6,321.8L185,324.40000000000003ZM184.9,320L187.5,317.4L190.1,320L187.5,322.6ZM187.4,312.5L190,309.9L192.6,312.5L190,315.1ZM189.9,301L192.5,298.4L195.1,301L192.5,303.6ZM192.4,292.5L195,289.9L197.6,292.5L195,295.1ZM194.9,285L197.5,282.4L200.1,285L197.5,287.6ZM197.4,279.5L200,276.9L202.6,279.5L200,282.1ZM199.9,275L202.5,272.4L205.1,275L202.5,277.6ZM202.4,271L205,268.4L207.6,271L205,273.6ZM204.9,267.5L207.5,264.9L210.1,267.5L207.5,270.1ZM207.4,264.5L210,261.9L212.6,264.5L210,267.1ZM209.9,262.5L212.5,259.9L215.1,262.5L212.5,265.1ZM212.4,263.5L215,260.9L217.6,263.5L215,266.1ZM214.9,266.5L217.5,263.9L220.1,266.5L217.5,269.1ZM218.0,274.5L220.6,271.9L223.2,274.5L220.6,277.1ZM221.20000000000002,283L223.8,280.4L226.4,283L223.8,285.6ZM224.1,293L226.7,290.4L229.29999999999998,293L226.7,295.6ZM226.9,297.5L229.5,294.9L232.1,297.5L229.5,300.1ZM229.4,303L232,300.4L234.6,303L232,305.6ZM231.4,304.3L234.0,301.7L236.6,304.3L234.0,306.90000000000003ZM233.4,306.3L236,303.7L238.6,306.3L236,308.90000000000003ZM235.9,307.9L238.5,305.29999999999995L241.1,307.9L238.5,310.5ZM238.4,308.8L241,306.2L243.6,308.8L241,311.40000000000003ZM240.8,309.05L243.4,306.45L246.0,309.05L243.4,311.65000000000003ZM243.20000000000002,310L245.8,307.4L248.4,310L245.8,312.6ZM246.6,311.2L249.2,308.59999999999997L251.79999999999998,311.2L249.2,313.8ZM248.35,312.75L250.95,310.15L253.54999999999998,312.75L250.95,315.35ZM250.1,315L252.7,312.4L255.29999999999998,315L252.7,317.6ZM252.25,315.25L254.85,312.65L257.45,315.25L254.85,317.85ZM254.4,314.8L257,312.2L259.6,314.8L257,317.40000000000003ZM257.15,314.8L259.75,312.2L262.35,314.8L259.75,317.40000000000003ZM259.9,315.5L262.5,312.9L265.1,315.5L262.5,318.1ZM262.65,316.35L265.25,313.75L267.85,316.35L265.25,318.95000000000005ZM265.4,316.5L268,313.9L270.6,316.5L268,319.1ZM267.72999999999996,316.48L270.33,313.88L272.93,316.48L270.33,319.08000000000004ZM270.07,317.52L272.67,314.91999999999996L275.27000000000004,317.52L272.67,320.12ZM272.4,317.5L275,314.9L277.6,317.5L275,320.1ZM274.9,317.75L277.5,315.15L280.1,317.75L277.5,320.35ZM277.4,317.3L280,314.7L282.6,317.3L280,319.90000000000003ZM279.9,317.1L282.5,314.5L285.1,317.1L282.5,319.70000000000005ZM282.4,317.6L285,315.0L287.6,317.6L285,320.20000000000005ZM285.15,317.9L287.75,315.29999999999995L290.35,317.9L287.75,320.5ZM287.9,317.5L290.5,314.9L293.1,317.5L290.5,320.1ZM290.4,292L293,289.4L295.6,292L293,294.6ZM293.4,265L296,262.4L298.6,265L296,267.6ZM295.15,255.15L297.75,252.55L300.35,255.15L297.75,257.75ZM296.9,246L299.5,243.4L302.1,246L299.5,248.6ZM299.9,230L302.5,227.4L305.1,230L302.5,232.6ZM301.65,225.15L304.25,222.55L306.85,225.15L304.25,227.75ZM303.4,221L306,218.4L308.6,221L306,223.6ZM305.4,217.85L308.0,215.25L310.6,217.85L308.0,220.45ZM307.4,214L310,211.4L312.6,214L310,216.6ZM309.9,211.5L312.5,208.9L315.1,211.5L312.5,214.1ZM312.4,209L315,206.4L317.6,209L315,211.6ZM314.9,210L317.5,207.4L320.1,210L317.5,212.6ZM316.9,212.5L319.5,209.9L322.1,212.5L319.5,215.1ZM319.4,222.5L322,219.9L324.6,222.5L322,225.1ZM322.4,237.5L325,234.9L327.6,237.5L325,240.1ZM325.4,254L328,251.4L330.6,254L328,256.6ZM328.4,266L331,263.4L333.6,266L331,268.6ZM330.4,270.65L333.0,268.04999999999995L335.6,270.65L333.0,273.25ZM332.4,276L335,273.4L337.6,276L335,278.6ZM334.9,281.5L337.5,278.9L340.1,281.5L337.5,284.1ZM337.4,286L340,283.4L342.6,286L340,288.6ZM339.9,289.5L342.5,286.9L345.1,289.5L342.5,292.1ZM342.4,292.5L345,289.9L347.6,292.5L345,295.1ZM345.4,295.3L348,292.7L350.6,295.3L348,297.90000000000003ZM347.65,296.8L350.25,294.2L352.85,296.8L350.25,299.40000000000003ZM349.9,299L352.5,296.4L355.1,299L352.5,301.6ZM351.65,300.35L354.25,297.75L356.85,300.35L354.25,302.95000000000005ZM353.4,301L356,298.4L358.6,301L356,303.6ZM355.4,301.4L358.0,298.79999999999995L360.6,301.4L358.0,304.0ZM357.4,302.5L360,299.9L362.6,302.5L360,305.1ZM359.9,303.6L362.5,301.0L365.1,303.6L362.5,306.20000000000005ZM362.4,304L365,301.4L367.6,304L365,306.6ZM364.9,304.4L367.5,301.79999999999995L370.1,304.4L367.5,307.0ZM367.4,305.5L370,302.9L372.6,305.5L370,308.1ZM369.9,306.1L372.5,303.5L375.1,306.1L372.5,308.70000000000005ZM372.4,306L375,303.4L377.6,306L375,308.6ZM374.4,305.65L377.0,303.04999999999995L379.6,305.65L377.0,308.25ZM376.4,306.35L379.0,303.75L381.6,306.35L379.0,308.95000000000005ZM378.4,306L381,303.4L383.6,306L381,308.6ZM380.4,307.35L383.0,304.75L385.6,307.35L383.0,309.95000000000005ZM382.4,308L385,305.4L387.6,308L385,310.6ZM384.9,308.4L387.5,305.79999999999995L390.1,308.4L387.5,311.0ZM387.4,309.5L390,306.9L392.6,309.5L390,312.1ZM389.4,310.6L392.0,308.0L394.6,310.6L392.0,313.20000000000005ZM391.4,311L394,308.4L396.6,311L394,313.6ZM393.15,311.15L395.75,308.54999999999995L398.35,311.15L395.75,313.75ZM394.9,312L397.5,309.4L400.1,312L397.5,314.6ZM396.65,311.1L399.25,308.5L401.85,311.1L399.25,313.70000000000005ZM398.4,309.5L401,306.9L403.6,309.5L401,312.1ZM401.4,244L404,241.4L406.6,244L404,246.6ZM402.9,200L405.5,197.4L408.1,200L405.5,202.6ZM404.4,178L407,175.4L409.6,178L407,180.6ZM407.4,137.5L410,134.9L412.6,137.5L410,140.1ZM410.4,112.5L413,109.9L415.6,112.5L413,115.1ZM413.4,85L416,82.4L418.6,85L416,87.6ZM415.4,78.4L418.0,75.80000000000001L420.6,78.4L418.0,81.0ZM417.4,72.5L420,69.9L422.6,72.5L420,75.1ZM419.9,66L422.5,63.4L425.1,66L422.5,68.6ZM422.9,84L425.5,81.4L428.1,84L425.5,86.6ZM424.65,82.85L427.25,80.25L429.85,82.85L427.25,85.44999999999999ZM426.4,81L429,78.4L431.6,81L429,83.6ZM429.4,89L432,86.4L434.6,89L432,91.6ZM432.4,97.5L435,94.9L437.6,97.5L435,100.1ZM435.4,110L438,107.4L440.6,110L438,112.6ZM438.4,125L441,122.4L443.6,125L441,127.6ZM440.4,132.15L443.0,129.55L445.6,132.15L443.0,134.75ZM442.4,140L445,137.4L447.6,140L445,142.6ZM445.4,152.5L448,149.9L450.6,152.5L448,155.1ZM448.4,166L451,163.4L453.6,166L451,168.6ZM450.15,171.35L452.75,168.75L455.35,171.35L452.75,173.95ZM451.9,176L454.5,173.4L457.1,176L454.5,178.6ZM454.9,185L457.5,182.4L460.1,185L457.5,187.6ZM457.9,192L460.5,189.4L463.1,192L460.5,194.6ZM460.4,200L463,197.4L465.6,200L463,202.6ZM463.4,209L466,206.4L468.6,209L466,211.6ZM465.15,212.15L467.75,209.55L470.35,212.15L467.75,214.75ZM466.9,216L469.5,213.4L472.1,216L469.5,218.6ZM468.65,221.35L471.25,218.75L473.85,221.35L471.25,223.95ZM470.4,226L473,223.4L475.6,226L473,228.6ZM473.4,232.5L476,229.9L478.6,232.5L476,235.1ZM475.15,236.6L477.75,234.0L480.35,236.6L477.75,239.2ZM476.9,240L479.5,237.4L482.1,240L479.5,242.6ZM479.9,250L482.5,247.4L485.1,250L482.5,252.6ZM482.9,257.5L485.5,254.9L488.1,257.5L485.5,260.1ZM484.65,261.15L487.25,258.54999999999995L489.85,261.15L487.25,263.75ZM486.4,265.5L489,262.9L491.6,265.5L489,268.1ZM488.15,267.6L490.75,265.0L493.35,267.6L490.75,270.20000000000005ZM489.9,269L492.5,266.4L495.1,269L492.5,271.6ZM491.65,269.65L494.25,267.04999999999995L496.85,269.65L494.25,272.25ZM493.4,271L496,268.4L498.6,271L496,273.6ZM495.4,272.85L498.0,270.25L500.6,272.85L498.0,275.45000000000005ZM497.4,274L500,271.4L502.6,274L500,276.6ZM499.65,274.65L502.25,272.04999999999995L504.85,274.65L502.25,277.25ZM501.9,276L504.5,273.4L507.1,276L504.5,278.6ZM504.9,275L507.5,272.4L510.1,275L507.5,277.6ZM506.65,276.9L509.25,274.29999999999995L511.85,276.9L509.25,279.5ZM508.4,279.5L511,276.9L513.6,279.5L511,282.1ZM510.15,279.6L512.75,277.0L515.35,279.6L512.75,282.20000000000005ZM511.9,279L514.5,276.4L517.1,279L514.5,281.6Z" fill="#5a1c1c"/></g>
<text transform="translate(79.3,266.3) scale(0.757,1)" font-size="22.6" font-weight="bold" text-anchor="start" fill="#141414" stroke="#141414" stroke-width="0.2" stroke-linejoin="round" >0.2nM</text>
<text transform="translate(81.8,286.20000000000005) scale(0.757,1)" font-size="22.8" font-weight="bold" text-anchor="start" fill="#141414" stroke="#141414" stroke-width="0.2" stroke-linejoin="round" >tPA</text>
<text transform="translate(111.1,276.8) scale(0.665,1)" font-size="12.8" font-weight="normal" text-anchor="start" fill="#141414" stroke="#141414" stroke-width="0.5" stroke-linejoin="round" >633</text>
<text transform="translate(183.1,233.1) scale(0.757,1)" font-size="22.6" font-weight="bold" text-anchor="start" fill="#141414" stroke="#141414" stroke-width="0.2" stroke-linejoin="round" >1nM</text>
<text transform="translate(178.7,253.1) scale(0.757,1)" font-size="22.8" font-weight="bold" text-anchor="start" fill="#141414" stroke="#141414" stroke-width="0.2" stroke-linejoin="round" >tPA</text>
<text transform="translate(207.3,244.29999999999998) scale(0.665,1)" font-size="12.8" font-weight="normal" text-anchor="start" fill="#141414" stroke="#141414" stroke-width="0.5" stroke-linejoin="round" >633</text>
<text transform="translate(260.6,187.2) scale(0.757,1)" font-size="22.6" font-weight="bold" text-anchor="start" fill="#141414" stroke="#141414" stroke-width="0.2" stroke-linejoin="round" >2nM</text>
<text transform="translate(252.4,208.1) scale(0.757,1)" font-size="22.8" font-weight="bold" text-anchor="start" fill="#141414" stroke="#141414" stroke-width="0.2" stroke-linejoin="round" >tPA</text>
<text transform="translate(280.8,199.1) scale(0.665,1)" font-size="12.8" font-weight="normal" text-anchor="start" fill="#141414" stroke="#141414" stroke-width="0.5" stroke-linejoin="round" >633</text>
<text transform="translate(438.1,76.3) scale(0.757,1)" font-size="22.6" font-weight="bold" text-anchor="start" fill="#141414" stroke="#141414" stroke-width="0.2" stroke-linejoin="round" >10nM</text>
<text transform="translate(438,96.6) scale(0.757,1)" font-size="22.8" font-weight="bold" text-anchor="start" fill="#141414" stroke="#141414" stroke-width="0.2" stroke-linejoin="round" >tPA</text>
<text transform="translate(466.6,86.8) scale(0.665,1)" font-size="12.8" font-weight="normal" text-anchor="start" fill="#141414" stroke="#141414" stroke-width="0.5" stroke-linejoin="round" >633</text>
<text transform="translate(0.4,403) scale(1.24,1)" font-size="23.6" font-weight="bold" text-anchor="start" fill="#141414" stroke="#141414" stroke-width="0.3" stroke-linejoin="round" >B</text>
<line x1="94" y1="610.6" x2="511" y2="610.6" stroke="#141414" stroke-width="1.5" stroke-dasharray="2 4.268"/>
<line x1="85.0" y1="610.6" x2="88.0" y2="610.6" stroke="#141414" stroke-width="1.6"/>
<text transform="translate(80.0,618.2) scale(0.93,1)" font-size="20.4" font-weight="bold" text-anchor="end" fill="#141414" stroke="#141414" stroke-width="0.1" stroke-linejoin="round" >20</text>
<line x1="94" y1="572.3" x2="511" y2="572.3" stroke="#141414" stroke-width="1.5" stroke-dasharray="2 4.268"/>
<line x1="85.0" y1="572.3" x2="88.0" y2="572.3" stroke="#141414" stroke-width="1.6"/>
<text transform="translate(80.0,579.9) scale(0.93,1)" font-size="20.4" font-weight="bold" text-anchor="end" fill="#141414" stroke="#141414" stroke-width="0.1" stroke-linejoin="round" >40</text>
<line x1="94" y1="534.0" x2="511" y2="534.0" stroke="#141414" stroke-width="1.5" stroke-dasharray="2 4.268"/>
<line x1="85.0" y1="534.0" x2="88.0" y2="534.0" stroke="#141414" stroke-width="1.6"/>
<text transform="translate(80.0,541.6) scale(0.93,1)" font-size="20.4" font-weight="bold" text-anchor="end" fill="#141414" stroke="#141414" stroke-width="0.1" stroke-linejoin="round" >60</text>
<line x1="94" y1="495.7" x2="511" y2="495.7" stroke="#141414" stroke-width="1.5" stroke-dasharray="2 4.268"/>
<line x1="85.0" y1="495.7" x2="88.0" y2="495.7" stroke="#141414" stroke-width="1.6"/>
<text transform="translate(80.0,503.3) scale(0.93,1)" font-size="20.4" font-weight="bold" text-anchor="end" fill="#141414" stroke="#141414" stroke-width="0.1" stroke-linejoin="round" >80</text>
<line x1="94" y1="457.4" x2="511" y2="457.4" stroke="#141414" stroke-width="1.5" stroke-dasharray="2 4.268"/>
<line x1="85.0" y1="457.4" x2="88.0" y2="457.4" stroke="#141414" stroke-width="1.6"/>
<text transform="translate(80.0,465.0) scale(0.93,1)" font-size="20.4" font-weight="bold" text-anchor="end" fill="#141414" stroke="#141414" stroke-width="0.1" stroke-linejoin="round" >100</text>
<line x1="94" y1="419.1" x2="511" y2="419.1" stroke="#141414" stroke-width="1.5" stroke-dasharray="2 4.268"/>
<line x1="85.0" y1="419.1" x2="88.0" y2="419.1" stroke="#141414" stroke-width="1.6"/>
<text transform="translate(80.0,426.7) scale(0.93,1)" font-size="20.4" font-weight="bold" text-anchor="end" fill="#141414" stroke="#141414" stroke-width="0.1" stroke-linejoin="round" >120</text>
<rect x="96.9" y="457.4" width="35.2" height="191.5" fill="url(#dots)" stroke="#141414" stroke-width="2.6"/>
<path d="M115.1,453.0 V461.8" stroke="#141414" stroke-width="2.6" fill="none"/><path d="M112.1,453.9 h6 M112.1,460.9 h6" stroke="#141414" stroke-width="1.9" fill="none"/>
<rect x="149.7" y="491.9" width="35.2" height="157.0" fill="url(#dots)" stroke="#141414" stroke-width="2.6"/>
<path d="M167.8,481.9 V501.8" stroke="#141414" stroke-width="2.6" fill="none"/><path d="M164.8,482.8 h6 M164.8,500.9 h6" stroke="#141414" stroke-width="1.9" fill="none"/>
<rect x="202.4" y="564.4" width="35.2" height="84.5" fill="url(#dots)" stroke="#141414" stroke-width="2.6"/>
<rect x="217.9" y="561.6" width="5.4" height="5.7" rx="0.6" fill="#141414"/>
<rect x="255.2" y="601.2" width="35.2" height="47.7" fill="url(#dots)" stroke="#141414" stroke-width="2.6"/>
<rect x="270.7" y="598.3" width="5.4" height="5.7" rx="0.6" fill="#141414"/>
<rect x="307.9" y="461.2" width="35.2" height="187.7" fill="url(#dots)" stroke="#141414" stroke-width="2.6"/>
<rect x="323.4" y="458.7" width="5.4" height="5.0" rx="0.6" fill="#141414"/>
<rect x="360.7" y="418.0" width="35.2" height="230.9" fill="url(#dots)" stroke="#141414" stroke-width="2.6"/>
<rect x="376.2" y="413.7" width="5.4" height="8.4" rx="0.6" fill="#141414"/>
<rect x="413.4" y="418.7" width="35.2" height="230.2" fill="url(#dots)" stroke="#141414" stroke-width="2.6"/>
<path d="M431.6,413.4 V424.1" stroke="#141414" stroke-width="2.6" fill="none"/><path d="M428.6,414.3 h6 M428.6,423.2 h6" stroke="#141414" stroke-width="1.9" fill="none"/>
<rect x="466.2" y="461.8" width="35.2" height="187.1" fill="url(#dots)" stroke="#141414" stroke-width="2.6"/>
<path d="M484.4,452.8 V470.8" stroke="#141414" stroke-width="2.6" fill="none"/><path d="M481.4,453.7 h6 M481.4,469.9 h6" stroke="#141414" stroke-width="1.9" fill="none"/>
<line x1="88.0" y1="400.3" x2="88.0" y2="650.1999999999999" stroke="#141414" stroke-width="2.7"/>
<line x1="86.7" y1="648.9" x2="511" y2="648.9" stroke="#141414" stroke-width="2.7"/>
<line x1="140.8" y1="648.9" x2="140.8" y2="651.6999999999999" stroke="#141414" stroke-width="1.5"/>
<line x1="193.6" y1="648.9" x2="193.6" y2="651.6999999999999" stroke="#141414" stroke-width="1.5"/>
<line x1="246.4" y1="648.9" x2="246.4" y2="651.6999999999999" stroke="#141414" stroke-width="1.5"/>
<line x1="299.2" y1="648.9" x2="299.2" y2="651.6999999999999" stroke="#141414" stroke-width="1.5"/>
<line x1="352.0" y1="648.9" x2="352.0" y2="651.6999999999999" stroke="#141414" stroke-width="1.5"/>
<line x1="404.8" y1="648.9" x2="404.8" y2="651.6999999999999" stroke="#141414" stroke-width="1.5"/>
<line x1="457.6" y1="648.9" x2="457.6" y2="651.6999999999999" stroke="#141414" stroke-width="1.5"/>
<line x1="510.4" y1="648.9" x2="510.4" y2="651.6999999999999" stroke="#141414" stroke-width="1.5"/>
<path d="M126.2,452 V443.2 H151.2 V483" fill="none" stroke="#141414" stroke-width="2.6"/>
<text transform="translate(138.2,446.1) scale(0.98,1)" font-size="20.5" font-weight="bold" text-anchor="middle" fill="#141414" stroke="#141414" stroke-width="0.4" stroke-linejoin="round" >*</text>
<path d="M179.5,483 V474.6 H204.6 V552" fill="none" stroke="#141414" stroke-width="2.6"/>
<text transform="translate(192,478.1) scale(0.98,1)" font-size="20.5" font-weight="bold" text-anchor="middle" fill="#141414" stroke="#141414" stroke-width="0.4" stroke-linejoin="round" >*</text>
<path d="M235.5,558.7 V549.6 H260 V595.5" fill="none" stroke="#141414" stroke-width="2.6"/>
<text transform="translate(248,553.6) scale(0.98,1)" font-size="20.5" font-weight="bold" text-anchor="middle" fill="#141414" stroke="#141414" stroke-width="0.4" stroke-linejoin="round" >*</text>
<text transform="translate(46.0,649.7) rotate(-90) scale(0.83,1)" font-size="26.2" font-weight="bold" text-anchor="start" fill="#141414" stroke="#141414" stroke-width="0.45" stroke-linejoin="round" >% binding of 1nM tPA</text>
<text transform="translate(34.1,428.2) rotate(-90) scale(0.884,1)" font-size="12.4" font-weight="normal" text-anchor="start" fill="#141414" stroke="#141414" stroke-width="0.55" stroke-linejoin="round" >633</text>
<text transform="translate(125.2,659.8) rotate(-45) scale(0.94,1)" font-size="19.5" font-weight="normal" text-anchor="end" fill="#141414" stroke="#141414" stroke-width="0.4" stroke-linejoin="round" >no competitor</text>
<text transform="translate(175.2,659.8) rotate(-45) scale(0.94,1)" font-size="19.5" font-weight="normal" text-anchor="end" fill="#141414" stroke="#141414" stroke-width="0.4" stroke-linejoin="round" >0.2µM tPA</text>
<text transform="translate(225.7,659.8) rotate(-45) scale(0.94,1)" font-size="19.5" font-weight="normal" text-anchor="end" fill="#141414" stroke="#141414" stroke-width="0.4" stroke-linejoin="round" >2µM tPA</text>
<text transform="translate(277.4,659.8) rotate(-45) scale(0.94,1)" font-size="19.5" font-weight="normal" text-anchor="end" fill="#141414" stroke="#141414" stroke-width="0.4" stroke-linejoin="round" >6µM tPA</text>
<text transform="translate(329.5,659.8) rotate(-45) scale(0.918,1)" font-size="19.5" font-weight="normal" text-anchor="end" fill="#141414" stroke="#141414" stroke-width="0.4" stroke-linejoin="round" >6µM tPA vehicle</text>
<text transform="translate(382.0,659.8) rotate(-45) scale(0.94,1)" font-size="19.5" font-weight="normal" text-anchor="end" fill="#141414" stroke="#141414" stroke-width="0.4" stroke-linejoin="round" >2µM reteplase</text>
<text transform="translate(438.5,659.8) rotate(-45) scale(0.918,1)" font-size="19.5" font-weight="normal" text-anchor="end" fill="#141414" stroke="#141414" stroke-width="0.4" stroke-linejoin="round" >2µM rete. vehicle</text>
<text transform="translate(495.0,659.8) rotate(-45) scale(0.94,1)" font-size="19.5" font-weight="normal" text-anchor="end" fill="#141414" stroke="#141414" stroke-width="0.4" stroke-linejoin="round" >10mM TXA</text>
<text transform="translate(82,660.4) rotate(-45) scale(0.9,1)" font-size="19.5" font-weight="bold" text-anchor="end" fill="#141414" stroke="#141414" stroke-width="0.2" stroke-linejoin="round" >competitor</text>
<line x1="18.6" y1="725.4" x2="82.4" y2="661.6" stroke="#141414" stroke-width="1.3"/>
</g>
</svg>
</body></html>
